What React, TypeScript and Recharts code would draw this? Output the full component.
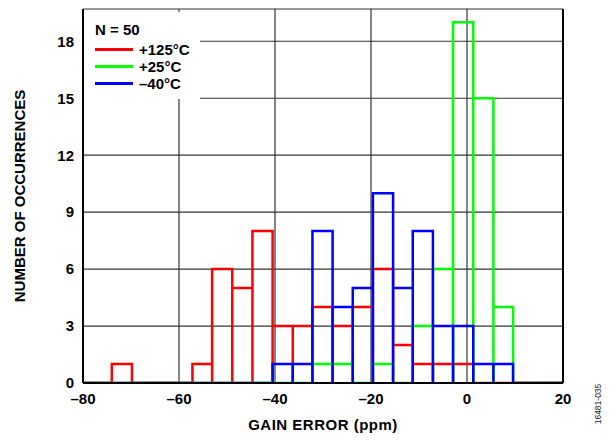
import React from 'react';
import { LineChart, Line, XAxis, YAxis, CartesianGrid, Legend } from 'recharts';

// bin edges (ppm), 20 bins
const binEdges = [
  -74.0, -69.8, -65.6, -61.4, -57.2, -53.1, -48.9, -44.7, -40.5, -36.3, -32.2,
  -28.0, -23.8, -19.6, -15.4, -11.3, -7.1, -2.9, 1.3, 5.5, 9.6,
];

// occurrences per bin
const counts125 = [1, 0, 0, 0, 1, 6, 5, 8, 3, 3, 4, 3, 4, 6, 2, 1, 1, 1, 0, 0];
const counts25 = [0, 0, 0, 0, 0, 0, 0, 0, 0, 0, 1, 1, 0, 1, 0, 3, 6, 19, 15, 4];
const countsMinus40 = [0, 0, 0, 0, 0, 0, 0, 0, 1, 1, 8, 4, 5, 10, 5, 8, 3, 3, 1, 1];

const xTicks = [-80, -60, -40, -20, 0, 20];
const yTicks = [0, 3, 6, 9, 12, 15, 18];

const FONT = '"Liberation Sans", Arial, Helvetica, sans-serif';

// histogram outline: every bin drawn as its own rectangle down to the baseline
const outline = (counts: number[]) => {
  const pts: { x: number; y: number }[] = [{ x: xTicks[0], y: 0 }];
  counts.forEach((c, i) => {
    const l = binEdges[i];
    const r = binEdges[i + 1];
    pts.push({ x: l, y: 0 }, { x: l, y: c }, { x: r, y: c }, { x: r, y: 0 });
  });
  pts.push({ x: xTicks[xTicks.length - 1], y: 0 });
  return pts;
};

const fmtTick = (v: number) => (v < 0 ? `\u2013${Math.abs(v)}` : `${v}`);

const LegendBox = ({ payload }: any) => (
  <div
    style={{
      background: '#fff',
      width: 116,
      padding: '9px 0 7px 11px',
      boxSizing: 'border-box',
      fontFamily: FONT,
      fontWeight: 'bold',
      fontSize: 15,
      color: '#000',
      lineHeight: '17px',
    }}
  >
    <div style={{ height: 19.5 }}>N = 50</div>
    {(payload || []).map((p: any) => (
      <div key={p.value} style={{ display: 'flex', alignItems: 'center', height: 17 }}>
        <span style={{ width: 38, height: 3, background: p.color, marginRight: 6, flex: 'none' }} />
        <span>{p.value}</span>
      </div>
    ))}
  </div>
);

export default function App() {
  const tickStyle = { fill: '#000', fontSize: 15, fontWeight: 'bold', fontFamily: FONT };
  return (
    <div style={{ position: 'absolute', left: 0, top: 0, width: 615, height: 440, background: '#fff' }}>
      <LineChart width={615} height={440} margin={{ top: 9, right: 0, bottom: 0, left: 0 }}>
        <CartesianGrid stroke="#333" strokeWidth={1.2} />
        <XAxis
          dataKey="x"
          type="number"
          domain={[-80, 20]}
          ticks={xTicks}
          allowDataOverflow
          height={57}
          tickLine={false}
          tickSize={6}
          tickMargin={4}
          tickFormatter={fmtTick}
          tick={tickStyle}
          axisLine={{ stroke: '#000', strokeWidth: 2 }}
          label={{
            value: 'GAIN ERROR (ppm)',
            position: 'insideBottom',
            offset: 10.5,
            style: { fill: '#000', fontSize: 15, fontWeight: 'bold', fontFamily: FONT, letterSpacing: 0.5 },
          }}
        />
        <XAxis
          xAxisId="top"
          orientation="top"
          type="number"
          domain={[-80, 20]}
          height={0}
          tick={false}
          tickLine={false}
          axisLine={{ stroke: '#000', strokeWidth: 2 }}
        />
        <YAxis
          type="number"
          domain={[0, 19.7]}
          ticks={yTicks}
          allowDataOverflow
          width={83}
          tickLine={false}
          tickSize={6}
          tickMargin={3}
          tick={tickStyle}
          axisLine={{ stroke: '#000', strokeWidth: 2 }}
          label={{
            value: 'NUMBER OF OCCURRENCES',
            angle: -90,
            position: 'insideLeft',
            offset: 20,
            style: { textAnchor: 'middle', fill: '#000', fontSize: 15, fontWeight: 'bold', fontFamily: FONT },
          }}
        />
        <YAxis
          yAxisId="right"
          orientation="right"
          type="number"
          domain={[0, 19.7]}
          width={52}
          tick={false}
          tickLine={false}
          axisLine={{ stroke: '#000', strokeWidth: 2 }}
        />
        <Legend
          layout="horizontal"
          verticalAlign="middle"
          align="center"
          content={<LegendBox />}
          wrapperStyle={{ left: 84, top: 12, width: 116 }}
        />
        <Line
          data={outline(counts125)}
          dataKey="y"
          name="+125°C"
          type="linear"
          stroke="#ff0000"
          strokeWidth={2.5}
          dot={false}
          activeDot={false}
          isAnimationActive={false}
        />
        <Line
          data={outline(counts25)}
          dataKey="y"
          name="+25°C"
          type="linear"
          stroke="#00ff00"
          strokeWidth={2.5}
          dot={false}
          activeDot={false}
          isAnimationActive={false}
        />
        <Line
          data={outline(countsMinus40)}
          dataKey="y"
          name={'\u201340°C'}
          type="linear"
          stroke="#0000ff"
          strokeWidth={2.5}
          dot={false}
          activeDot={false}
          isAnimationActive={false}
        />
      </LineChart>
      <div
        style={{
          position: 'absolute',
          left: 598,
          top: 404,
          transform: 'translate(-50%, -50%) rotate(-90deg)',
          whiteSpace: 'nowrap',
          fontFamily: FONT,
          fontSize: 8.5,
          color: '#222',
        }}
      >
        16481-035
      </div>
    </div>
  );
}
